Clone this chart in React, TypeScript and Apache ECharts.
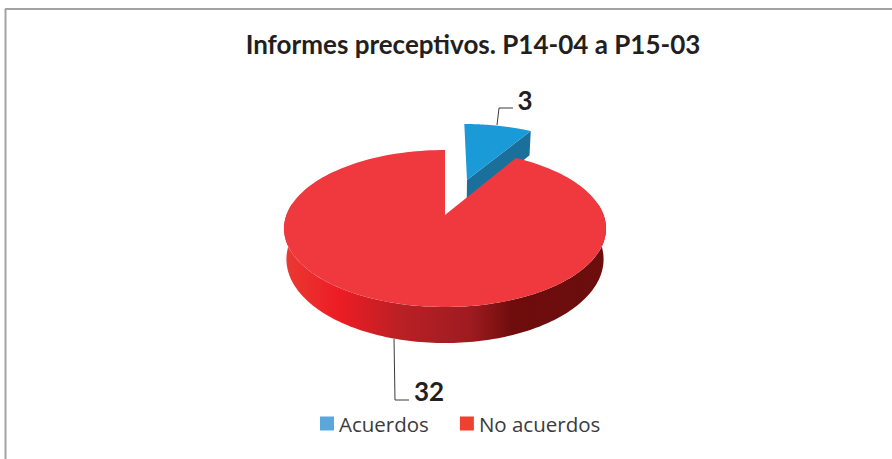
import React, { useEffect, useRef } from "react";
import * as echarts from "echarts";

const titleText = "Informes preceptivos. P14-04 a P15-03";
const categories = ["Acuerdos", "No acuerdos"];
const values = [3, 32];
const legendColors = ["#5BA7DC", "#EF4130"];
const topColors = ["#1A9AD7", "#EF393E"];
const explodes = [0.5, 0];

// projection of the tilted disc
const CX = 445, CY = 215, A = 158.6, B = 76.2, P = 0.172, DEPTH = 29.8, BOTTOM_X = 0.985;

const total = values.reduce((s, v) => s + v, 0);

function project(u: number, v: number, down: boolean): number[] {
  const w = 1 + P * v;
  const x = A * u / w;
  const y = CY - B * v / w + (down ? DEPTH / w : 0);
  return [CX + (down ? x * BOTTOM_X : x), y];
}

function rimPoint(theta: number, ex: number, ey: number, down: boolean) {
  return project(ex + Math.sin(theta), ey + Math.cos(theta), down);
}

const labelStyle = { fill: "#231F20", fontFamily: "Lato", fontWeight: "bold", fontSize: 26, align: "center", verticalAlign: "middle" };

function sliceRender(index: number) {
  return (_params: any, api: any) => {
    const value = api.value(0) as number;
    const before = values.slice(0, index).reduce((s, v) => s + v, 0);
    const start = (before / total) * Math.PI * 2;
    const end = start + (value / total) * Math.PI * 2;
    const mid = (start + end) / 2;
    const ex = explodes[index] * Math.sin(mid);
    const ey = explodes[index] * Math.cos(mid);
    const n = 160;
    const top: number[][] = [project(ex, ey, false)];
    for (let i = 0; i <= n; i++) top.push(rimPoint(start + ((end - start) * i) / n, ex, ey, false));

    const children: any[] = [];
    if (index === 0) {
      const a = project(ex, ey, false);
      const b = rimPoint(end, ex, ey, false);
      const c = rimPoint(end, ex, ey, true);
      const d = project(ex, ey, true);
      children.push({
        type: "group",
        x: 2.5,
        y: -1,
        children: [
          { type: "polygon", shape: { points: [a, b, c, d] }, style: { fill: "#1B6F9B" } },
          { type: "polygon", shape: { points: top }, style: { fill: topColors[0] } },
        ],
      });
      children.push({ type: "polyline", shape: { points: [[497, 125], [499, 108], [513, 108]] }, style: { stroke: "#3A3A3A", lineWidth: 1, fill: "none" } });
      children.push({ type: "text", x: 525, y: 100, style: { text: String(value), ...labelStyle } });
    } else {
      const upper: number[][] = [], lower: number[][] = [];
      for (let i = 0; i <= n; i++) {
        const t = Math.PI * 0.45 + (Math.PI * 1.1 * i) / n;
        upper.push(rimPoint(t, 0, 0, false));
        lower.unshift(rimPoint(t, 0, 0, true));
      }
      children.push({
        type: "polygon",
        shape: { points: upper.concat(lower) },
        style: {
          fill: new echarts.graphic.LinearGradient(0, 0, 1, 0, [
            { offset: 0, color: "#EA3A32" },
            { offset: 0.17, color: "#ED1C24" },
            { offset: 0.37, color: "#B82025" },
            { offset: 0.58, color: "#9E1B20" },
            { offset: 0.71, color: "#6F0C0C" },
            { offset: 1, color: "#6B0E0E" },
          ]),
        },
      });
      children.push({ type: "polygon", shape: { points: top }, style: { fill: topColors[1] } });
      children.push({ type: "polyline", shape: { points: [[394, 339], [395, 400], [409, 400]] }, style: { stroke: "#3A3A3A", lineWidth: 1, fill: "none" } });
      children.push({ type: "text", x: 429, y: 391, style: { text: String(value), ...labelStyle } });
    }
    return { type: "group", children };
  };
}

export default function App() {
  const ref = useRef<HTMLDivElement>(null);
  useEffect(() => {
    document.body.style.margin = "0";
    const chart = echarts.init(ref.current!, null, { renderer: "svg" });
    chart.setOption({
      animation: false,
      backgroundColor: "#FFFFFF",
      title: {
        text: titleText,
        left: 468,
        top: 26,
        textAlign: "center",
        textStyle: { fontFamily: "Lato", fontWeight: "bold", fontSize: 26, color: "#231F20" },
      },
      legend: {
        data: categories,
        left: 315,
        top: 408,
        icon: "rect",
        itemWidth: 14,
        itemHeight: 14,
        itemGap: 31,
        textStyle: { fontFamily: "Open Sans", fontSize: 20.5, color: "#3A3A3C" },
      },
      graphic: [
        { type: "line", shape: { x1: 5.5, y1: 9, x2: 5.5, y2: 459 }, style: { stroke: "#A3A3A3", lineWidth: 2 } },
        { type: "line", shape: { x1: 5, y1: 9, x2: 892, y2: 9 }, style: { stroke: "#A3A3A3", lineWidth: 2 } },
      ],
      series: categories.map((name, i) => ({
        type: "custom",
        name,
        coordinateSystem: "none",
        itemStyle: { color: legendColors[i] },
        renderItem: sliceRender(i),
        data: [values[i]],
      })),
    });
    return () => chart.dispose();
  }, []);
  return <div ref={ref} style={{ position: "fixed", left: 0, top: 0, width: 892, height: 459 }} />;
}
